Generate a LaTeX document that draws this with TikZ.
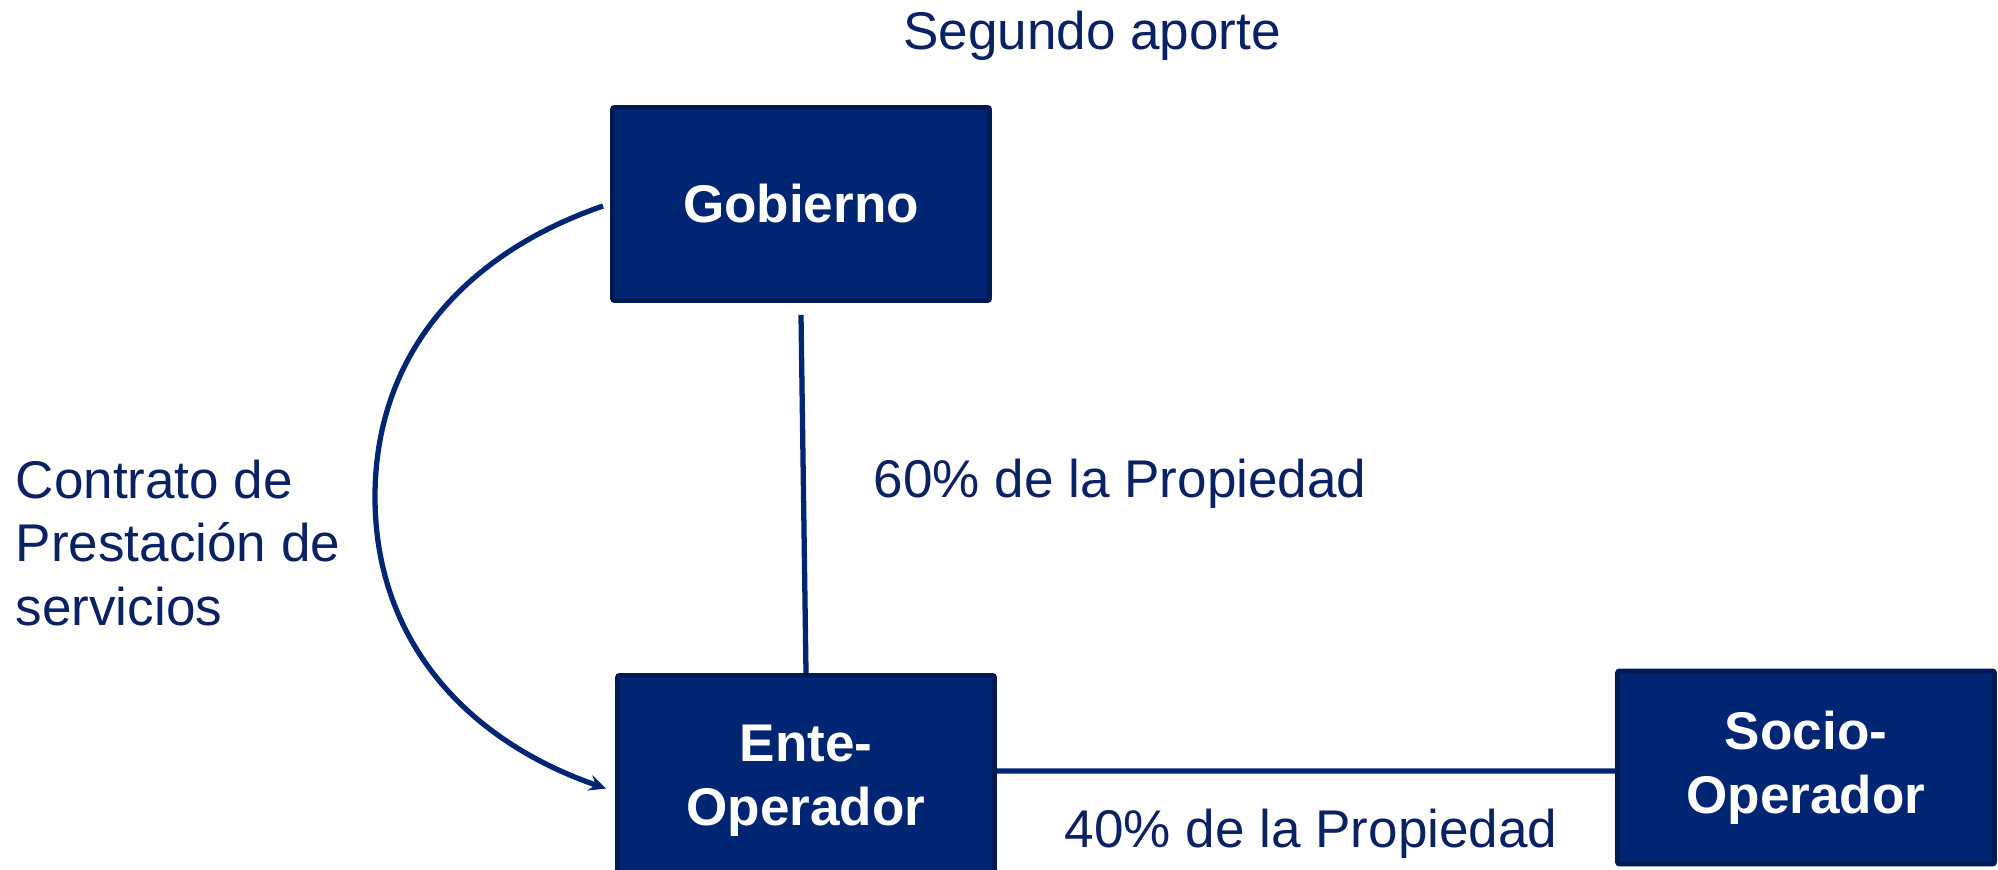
\documentclass[tikz,border=0pt]{standalone}
\usepackage{fontspec}
\setmainfont{Liberation Sans}
\usetikzlibrary{arrows.meta,positioning,calc}

\definecolor{boxblue}{RGB}{0,38,115}
\definecolor{boxedge}{RGB}{0,26,84}
\definecolor{textblue}{RGB}{10,34,100}

\tikzset{
  actor/.style={draw=boxedge, line width=1.4pt, fill=boxblue, rounded corners=0.6pt,
    minimum width=3.77cm, minimum height=1.93cm, align=center, text=white,
    font=\fontsize{15.1}{18.2}\selectfont\bfseries},
  lbl/.style={text=textblue, inner sep=0pt, align=left,
    font=\fontsize{15.1}{18.2}\selectfont},
  link/.style={draw=boxblue, line width=1.5pt}
}

\begin{document}
\begin{tikzpicture}
    \useasboundingbox (0,0) rectangle (19.98,8.69);

    % Boxes
    \node[actor] (gob) at (8.01,6.65) {Gobierno};
    \node[actor, minimum height=2.1cm] (ente) at (8.06,0.885) {Ente-\\Operador};
    \node[actor] (socio) at (18.06,1.015) {Socio-\\Operador};

    % Labels
    \node[lbl] (aporte) at (10.92,8.33) {Segundo aporte};
    \node[lbl, anchor=west] (contrato) at (0.15,3.26) {Contrato de\\Prestación de\\servicios};
    \node[lbl, anchor=west] (sesenta) at (8.73,3.85) {60\% de la Propiedad};
    \node[lbl, anchor=west] (cuarenta) at (10.64,0.35) {40\% de la Propiedad};

    % Connectors
    \coordinate (arcleft) at (3.75,3.72);
    \draw[link] ([yshift=-0.12cm]gob.south) -- (ente.north);
    \draw[link] ([yshift=0.095cm]ente.east) -- ([yshift=-0.035cm]socio.west);
    \draw[link, -{Stealth[length=0.17cm,width=0.16cm,inset=0.06cm]}]
        ([xshift=-0.07cm,yshift=-0.02cm]gob.west) to[out=199,in=90] (arcleft)
        to[out=-90,in=161] ([xshift=-0.09cm,yshift=-0.08cm]ente.west);
\end{tikzpicture}
\end{document}
